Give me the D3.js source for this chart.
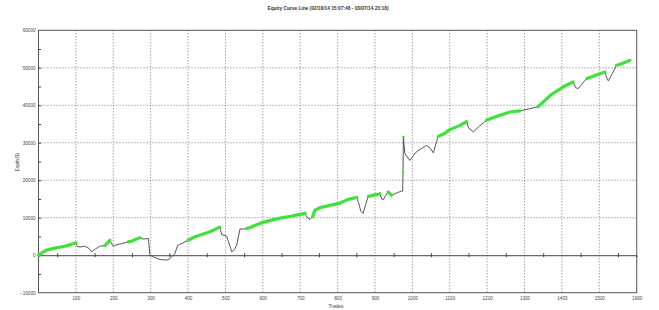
<!DOCTYPE html>
<html>
<head>
<meta charset="utf-8">
<script src="https://cdn.jsdelivr.net/npm/d3@7"></script>
<style>
  body { margin: 0; background: #fff; }
  svg { display: block; font-family: "Liberation Sans", Arial, sans-serif; }
</style>
</head>
<body>
<svg id="chart" width="659" height="310"></svg>
<script>
// trade number / equity value
var trades = [0, 10, 20, 35, 47, 60, 74, 88, 100, 104, 111, 124, 135, 142, 150, 164, 178, 186, 191, 196,
  200, 210, 222, 240, 250, 262, 271, 280, 294, 298, 307, 325, 343, 352, 365, 372, 378, 387, 400, 418,
  445, 460, 472, 485, 490, 503, 510, 517, 524, 530, 539, 550, 557, 566, 592, 620, 646, 675, 699, 713,
  718, 726, 733, 739, 753, 779, 806, 828, 851, 856, 862, 868, 875, 882, 900, 913, 918, 922, 935, 944,
  960, 971, 974, 975, 976, 980, 993, 1011, 1038, 1048, 1056, 1069, 1085, 1100, 1125, 1145, 1150, 1163, 1180, 1198,
  1230, 1261, 1287, 1314, 1336, 1350, 1370, 1386, 1405, 1421, 1430, 1436, 1443, 1452, 1466, 1490, 1515, 1519, 1524, 1535,
  1546, 1559, 1570, 1582];
var equity = [0, 700, 1300, 1700, 1950, 2200, 2500, 2900, 3300, 2300, 2200, 2400, 1800, 900, 1500, 2400, 2600, 3400, 4000, 3000,
  2400, 2800, 3100, 3550, 3800, 4300, 4700, 4300, 4450, 0, -450, -1150, -1300, -900, 450, 2600, 2900, 3300, 4000, 4900,
  5800, 6300, 6900, 7500, 5500, 5100, 3000, 900, 1500, 2700, 7000, 7000, 7100, 7400, 8500, 9300, 9900, 10400, 10900, 11200,
  10200, 9500, 10200, 12000, 12700, 13300, 13900, 14900, 15400, 14000, 11800, 11100, 13500, 15700, 16100, 16400, 15000, 14800, 16900, 16000,
  16700, 17100, 17100, 22200, 31500, 27100, 25300, 27600, 29300, 28500, 27300, 31700, 32400, 33500, 34500, 35600, 34000, 32900, 34500, 36000,
  37200, 38200, 38500, 39100, 39600, 40900, 42700, 43800, 45000, 45800, 46200, 44800, 44400, 45500, 47100, 48000, 48900, 47500, 46500, 48500,
  50700, 51100, 51500, 52000];

// trade ranges drawn in green, and single green markers
var greenRanges = [[0, 100], [178, 191], [240, 271], [400, 485], [557, 713], [733, 851], [882, 913],
  [935, 944], [1069, 1145], [1198, 1296], [1336, 1430], [1466, 1515], [1546, 1582]];
var greenDots = [975, 976];

var xTicks = d3.range(100, 1601, 100);
var yTicks = d3.range(-10000, 60001, 10000);

var title = "Equity Curve Line (02/18/14 15:07:48 - 03/07/14 23:18)";
var yLabel = "Equity($)";
var xLabel = "Trades";

var svg = d3.select("#chart");
var plotL = 38.5, plotR = 636.7, plotT = 30.3, plotB = 292.7;

var xScale = d3.scaleLinear().domain([0, 1600]).range([plotL, plotR]);
var yScale = d3.scaleLinear().domain([-10000, 60000]).range([plotB, plotT]);

var points = trades.map(function (t, i) {
  return { t: t, v: equity[i] };
});

// dotted grid
svg.append("g")
  .selectAll("line.vgrid")
  .data(xTicks.filter(function (d) { return d < 1600; }))
  .enter()
  .append("line")
  .attr("class", "vgrid")
  .attr("x1", function (d) { return xScale(d); })
  .attr("x2", function (d) { return xScale(d); })
  .attr("y1", plotT)
  .attr("y2", plotB)
  .attr("stroke", "#555")
  .attr("stroke-width", 0.8)
  .attr("stroke-dasharray", "1,2");

svg.append("g")
  .selectAll("line.hgrid")
  .data(yTicks.filter(function (d) { return d > 0 && d < 60000; }))
  .enter()
  .append("line")
  .attr("class", "hgrid")
  .attr("x1", plotL)
  .attr("x2", plotR)
  .attr("y1", function (d) { return yScale(d); })
  .attr("y2", function (d) { return yScale(d); })
  .attr("stroke", "#555")
  .attr("stroke-width", 0.8)
  .attr("stroke-dasharray", "1,2");

// zero line with small ticks every 50 trades
var zeroAxis = svg.append("g")
  .attr("transform", "translate(0," + yScale(0) + ")")
  .call(d3.axisBottom(xScale).tickValues(d3.range(50, 1600, 100)).tickSize(2).tickFormat(""));
zeroAxis.select(".domain").attr("stroke", "#444").attr("stroke-width", 1);
zeroAxis.selectAll(".tick line").attr("stroke", "#444").attr("y1", -2);

// frame
svg.append("rect")
  .attr("x", plotL)
  .attr("y", plotT)
  .attr("width", plotR - plotL)
  .attr("height", plotB - plotT)
  .attr("fill", "none")
  .attr("stroke", "#555")
  .attr("stroke-width", 1);

// left axis: labels and inner minor ticks
var yAxis = svg.append("g")
  .attr("transform", "translate(" + plotL + ",0)")
  .call(d3.axisLeft(yScale).tickValues(yTicks).tickSize(0).tickPadding(3).tickFormat(d3.format("d")));
yAxis.select(".domain").remove();
yAxis.selectAll("text").attr("font-size", 4.6).attr("fill", "#444")
  .attr("font-family", "Liberation Sans, Arial, sans-serif");

var yMinor = svg.append("g")
  .attr("transform", "translate(" + plotL + ",0)")
  .call(d3.axisRight(yScale).tickValues(d3.range(-5000, 60000, 5000)).tickSize(2.5).tickFormat(""));
yMinor.select(".domain").remove();
yMinor.selectAll(".tick line").attr("stroke", "#444");

var xAxis = svg.append("g")
  .attr("transform", "translate(0," + plotB + ")")
  .call(d3.axisBottom(xScale).tickValues(xTicks).tickSize(0).tickPadding(4).tickFormat(d3.format("d")));
xAxis.select(".domain").remove();
xAxis.selectAll("text").attr("font-size", 4.6).attr("fill", "#444")
  .attr("font-family", "Liberation Sans, Arial, sans-serif");

// equity curve
var line = d3.line()
  .x(function (d) { return xScale(d.t); })
  .y(function (d) { return yScale(d.v); });

svg.append("path")
  .datum(points)
  .attr("d", line)
  .attr("fill", "none")
  .attr("stroke", "#444")
  .attr("stroke-width", 0.9);

svg.append("g")
  .selectAll("path.green")
  .data(greenRanges)
  .enter()
  .append("path")
  .attr("class", "green")
  .attr("d", function (r) {
    return line(points.filter(function (p) { return p.t >= r[0] && p.t <= r[1]; }));
  })
  .attr("fill", "none")
  .attr("stroke", "#3ee23a")
  .attr("stroke-width", 3.2)
  .attr("stroke-linecap", "round")
  .attr("stroke-linejoin", "round");

svg.append("g")
  .selectAll("circle.green")
  .data(points.filter(function (p) { return greenDots.indexOf(p.t) >= 0; }))
  .enter()
  .append("circle")
  .attr("class", "green")
  .attr("cx", function (d) { return xScale(d.t); })
  .attr("cy", function (d) { return yScale(d.v); })
  .attr("r", 1.3)
  .attr("fill", "#3ee23a");

// titles
svg.append("text")
  .attr("x", 328)
  .attr("y", 9.5)
  .attr("text-anchor", "middle")
  .attr("font-size", 4.8)
  .attr("font-weight", "bold")
  .attr("fill", "#333")
  .text(title);

svg.append("text")
  .attr("transform", "translate(19,162) rotate(-90)")
  .attr("text-anchor", "middle")
  .attr("font-size", 4.6)
  .attr("fill", "#444")
  .text(yLabel);

svg.append("text")
  .attr("x", 336)
  .attr("y", 308)
  .attr("text-anchor", "middle")
  .attr("font-size", 4.8)
  .attr("fill", "#444")
  .text(xLabel);
</script>
</body>
</html>
